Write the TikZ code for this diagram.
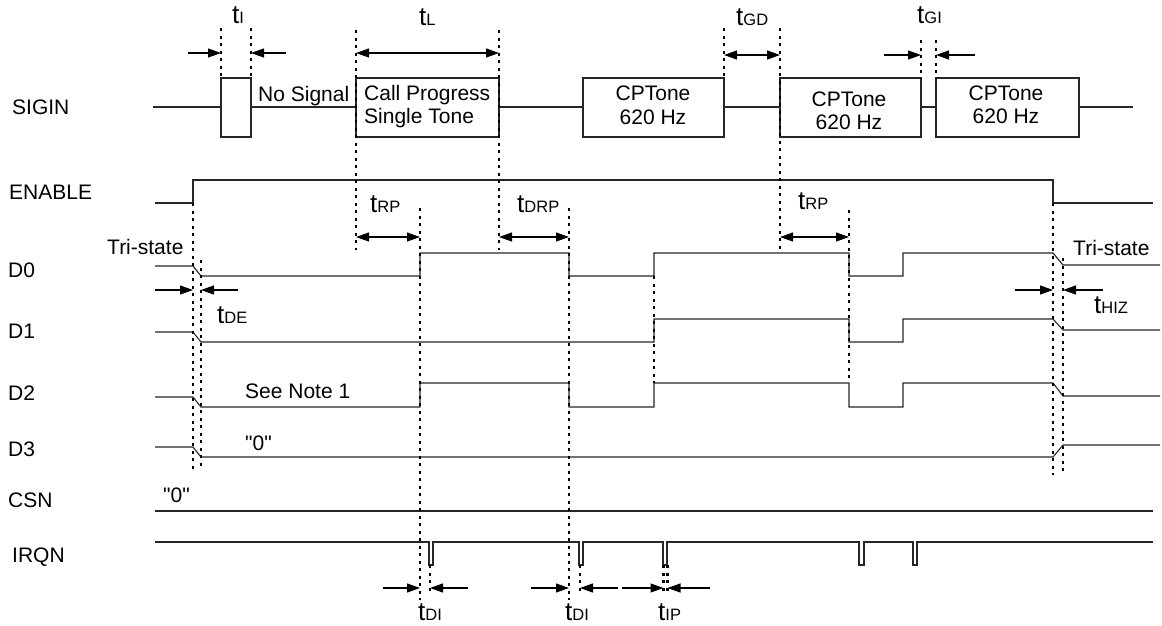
\documentclass[tikz,border=0pt]{standalone}
\usepackage{fontspec}
\setmainfont{Liberation Sans}
\newfontfamily\qfont{Liberation Sans}
\usetikzlibrary{arrows.meta}
\begin{document}
\begin{tikzpicture}[x=1pt,y=-1pt,
  sig/.style={line width=1.1pt,black!85},
  dotv/.style={line width=2.2pt,dash pattern=on 3pt off 4.5pt},
  dimr/.style={line width=1.1pt,-{Triangle[length=13pt,width=9pt]}},
  dimb/.style={line width=1.1pt,{Triangle[length=13pt,width=9pt]}-{Triangle[length=13pt,width=9pt]}},
  lab/.style={inner sep=0pt,anchor=base west,font=\fontsize{21}{24}\selectfont},
  clab/.style={inner sep=0pt,anchor=base,font=\fontsize{21}{24}\selectfont},
  tlab/.style={inner sep=0pt,anchor=base west}]
\newcommand{\tsub}[1]{{\fontsize{26}{28}\selectfont t}{\fontsize{16.5}{18}\selectfont #1}}
\newcommand{\qzero}{{\qfont "0"}}
\useasboundingbox (0,0) rectangle (1162,625);
% signal names
\node[lab,anchor=west] (nSIGIN) at (12,107) {SIGIN};
\node[lab,anchor=west] (nEN) at (9,192) {ENABLE};
\node[lab,anchor=west] (nD0) at (8,270) {D0};
\node[lab,anchor=west] (nD1) at (8,331) {D1};
\node[lab,anchor=west] (nD2) at (8,393) {D2};
\node[lab,anchor=west] (nD3) at (8,449) {D3};
\node[lab,anchor=west] (nCSN) at (8,500) {CSN};
\node[lab,anchor=west] (nIRQN) at (12,557) {IRQN};
% SIGIN waveform
\draw[sig] (153,107) -- (221,107);
\draw[sig] (221,78) rectangle (251,137);
\draw[sig] (251,107) -- (356,107);
\draw[sig] (356,78) rectangle (499,137);
\draw[sig] (499,107) -- (583,107);
\draw[sig] (583,78) rectangle (724,137);
\draw[sig] (724,107) -- (780,107);
\draw[sig] (780,78) rectangle (921,137);
\draw[sig] (921,107) -- (936,107);
\draw[sig] (936,78) rectangle (1079,137);
\draw[sig] (1079,107) -- (1133,107);
\node[lab] (tNoSig) at (258,101) {No Signal};
\node[lab] (tCall1) at (364,100) {Call Progress};
\node[lab] (tCall2) at (364,123) {Single Tone};
\node[clab] (tB3a) at (653,100) {CPTone};
\node[clab] (tB3b) at (653,124) {620 Hz};
\node[clab] (tB4a) at (849,106) {CPTone};
\node[clab] (tB4b) at (849,129) {620 Hz};
\node[clab] (tB5a) at (1006,100) {CPTone};
\node[clab] (tB5b) at (1006,123) {620 Hz};
% ENABLE
\draw[sig] (155,203) -- (193,203) -- (193,180) -- (1053,180) -- (1053,203) -- (1153,203);
% D0
\draw[sig] (155,266) -- (193,266) -- (201,276) -- (420,276) -- (420,253) -- (569,253) -- (569,276) -- (654,276) -- (654,253) -- (849,253) -- (849,276) -- (903,276) -- (903,253) -- (1053,253) -- (1063,265) -- (1160,265);
% D1
\draw[sig] (155,332) -- (193,332) -- (201,342) -- (654,342) -- (654,319) -- (849,319) -- (849,342) -- (903,342) -- (903,319) -- (1053,319) -- (1063,330) -- (1160,330);
% D2
\draw[sig] (155,397) -- (193,397) -- (201,407) -- (420,407) -- (420,383) -- (569,383) -- (569,407) -- (654,407) -- (654,383) -- (849,383) -- (849,407) -- (903,407) -- (903,383) -- (1053,383) -- (1063,396) -- (1160,396);
% D3
\draw[sig] (155,447) -- (193,447) -- (201,457) -- (1053,457) -- (1063,445) -- (1160,445);
% CSN
\draw[sig] (155,511) -- (1153,511);
% IRQN
\draw[sig] (155,542) -- (429,542) -- (429,565) -- (433,565) -- (433,542) -- (579,542) -- (579,565) -- (583,565) -- (583,542) -- (663,542) -- (663,565) -- (667,565) -- (667,542) -- (859,542) -- (859,565) -- (864,565) -- (864,542) -- (913,542) -- (913,565) -- (917,565) -- (917,542) -- (1153,542);
% texts on waveforms
\node[lab] (tTri1) at (107,254) {Tri-state};
\node[lab] (tTri2) at (1073,255) {Tri-state};
\node[lab] (tNote) at (245,398) {See Note 1};
\node[lab] (tZero1) at (245,450) {\qzero};
\node[lab] (tZero2) at (163,502) {\qzero};
% dotted guide lines
\draw[dotv] (221,28) -- (221,78);
\draw[dotv] (251,28) -- (251,78);
\draw[dotv] (356,30) -- (356,250);
\draw[dotv] (499,30) -- (499,250);
\draw[dotv] (724,28) -- (724,78);
\draw[dotv] (780,28) -- (780,253);
\draw[dotv] (921,40) -- (921,78);
\draw[dotv] (936,40) -- (936,78);
\draw[dotv] (193,203) -- (193,470);
\draw[dotv] (201,260) -- (201,470);
\draw[dotv] (420,208) -- (420,600);
\draw[dotv] (569,208) -- (569,600);
\draw[dotv] (849,210) -- (849,378);
\draw[dotv] (654,276) -- (654,383);
\draw[dotv] (1053,203) -- (1053,475);
\draw[dotv] (1063,258) -- (1063,475);
\draw[dotv] (430,565) -- (430,594);
\draw[dotv] (580,565) -- (580,594);
\draw[dotv] (663.5,565) -- (663.5,594);
\draw[dotv] (667.5,565) -- (667.5,594);
% dimension arrows
\draw[dimr] (188,53) -- (221,53);
\draw[dimr] (286,53) -- (251,53);
\draw[dimb] (356,53) -- (499,53);
\draw[dimb] (724,55) -- (780,55);
\draw[dimr] (884,55) -- (921,55);
\draw[dimr] (975,55) -- (936,55);
\draw[dimb] (356,237) -- (420,237);
\draw[dimb] (499,237) -- (569,237);
\draw[dimb] (780,237) -- (849,237);
\draw[dimr] (155,290) -- (193,290);
\draw[dimr] (238,290) -- (201,290);
\draw[dimr] (1015,290) -- (1053,290);
\draw[dimr] (1103,290) -- (1063,290);
\draw[dimr] (383,588) -- (420,588);
\draw[dimr] (468,588) -- (430,588);
\draw[dimr] (531,588) -- (569,588);
\draw[dimr] (618,588) -- (580,588);
\draw[dimr] (622,588) -- (663.5,588);
\draw[dimr] (710,588) -- (667.5,588);
% timing labels
\node[tlab] (lI) at (232,23) {\tsub{I}};
\node[tlab] (lL) at (419,25) {\tsub{L}};
\node[tlab] (lGD) at (736,25) {\tsub{GD}};
\node[tlab] (lGI) at (917,23) {\tsub{GI}};
\node[tlab] (lRP1) at (370,212) {\tsub{RP}};
\node[tlab] (lDRP) at (517,212) {\tsub{DRP}};
\node[tlab] (lRP2) at (798,209) {\tsub{RP}};
\node[tlab] (lDE) at (217,323) {\tsub{DE}};
\node[tlab] (lHIZ) at (1094,313) {\tsub{HIZ}};
\node[tlab] (lDI1) at (418,620) {\tsub{DI}};
\node[tlab] (lDI2) at (565,620) {\tsub{DI}};
\node[tlab] (lIP) at (658,620) {\tsub{IP}};
\end{tikzpicture}
\end{document}
